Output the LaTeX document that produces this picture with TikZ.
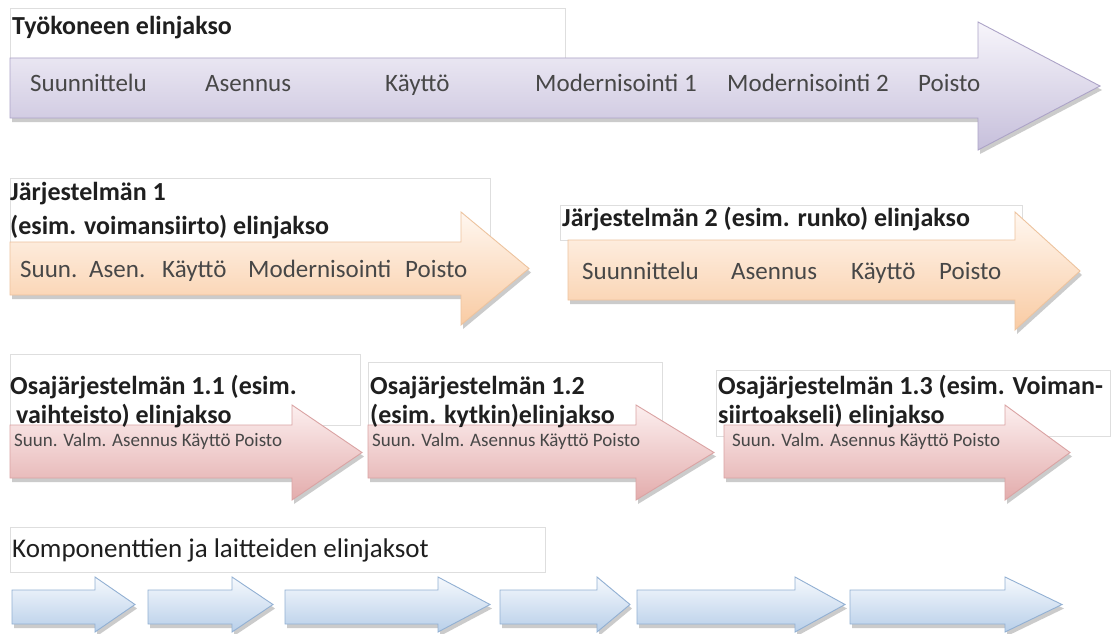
\documentclass[tikz,border=0pt]{standalone}
\usepackage{fontspec}
\setmainfont{Carlito}
\definecolor{lavT}{HTML}{F7F5FB}
\definecolor{lavB}{HTML}{C6BFDB}
\definecolor{lavD}{HTML}{ACA3C7}
\definecolor{orT}{HTML}{FFF7F0}
\definecolor{orB}{HTML}{F9CBA3}
\definecolor{orD}{HTML}{EDC39E}
\definecolor{pkT}{HTML}{FCEFEF}
\definecolor{pkB}{HTML}{E3ACAC}
\definecolor{pkD}{HTML}{DAA3A3}
\definecolor{blT}{HTML}{F6F9FD}
\definecolor{blB}{HTML}{B8CFE9}
\definecolor{blD}{HTML}{92B0D3}
\newcommand{\lcarrow}[8]{%
  \begin{scope}[shift={(2,4)}]
    \path[shad] (#1,#4) -- (#2,#4) -- (#2,#6) -- (#3,{(#6+#7)/2}) -- (#2,#7) -- (#2,#5) -- (#1,#5) -- cycle;
  \end{scope}
  \path[#8] (#1,#4) -- (#2,#4) -- (#2,#6) -- (#3,{(#6+#7)/2}) -- (#2,#7) -- (#2,#5) -- (#1,#5) -- cycle;
}
\begin{document}
\begin{tikzpicture}[x={(1pt,0)}, y={(0,-1pt)},
  ttl/.style={anchor=base west, inner sep=0, font=\fontsize{26}{30}\selectfont\bfseries, text=black!88},
  ttlr/.style={anchor=base west, inner sep=0, font=\fontsize{27}{30}\selectfont, text=black!88},
  lbl/.style={anchor=base west, inner sep=0, font=\fontsize{25}{30}\selectfont, text=black!72},
  sml/.style={anchor=base west, inner sep=0, font=\fontsize{19}{22}\selectfont, text=black!72},
  tbox/.style={draw=black!13, line width=0.9},
  shad/.style={fill=black!40, draw=none, opacity=0.5},
  lav/.style={top color=lavT, bottom color=lavB, draw=lavD, line width=0.9},
  ora/.style={top color=orT, bottom color=orB, draw=orD, line width=0.9},
  pnk/.style={top color=pkT, bottom color=pkB, draw=pkD, line width=0.9},
  blu/.style={top color=blT, bottom color=blB, draw=blD, line width=0.9}]
\useasboundingbox[fill=white] (0,0) rectangle (1116,634);

% ---------- row 1 ----------
\draw[tbox] (10,8) rectangle (565,58);
\lcarrow{10}{978}{1100}{58}{118}{22}{150}{lav}
\node[ttl] (t1) at (12,35) {Työkoneen elinjakso};
\node[lbl] (a1) at (30,91) {Suunnittelu};
\node[lbl] (a2) at (205,91) {Asennus};
\node[lbl] (a3) at (385,91) {Käyttö};
\node[lbl] (a4) at (535,91) {Modernisointi 1};
\node[lbl] (a5) at (727,91) {Modernisointi 2};
\node[lbl] (a6) at (918,91) {Poisto};

% ---------- row 2 ----------
\draw[tbox] (10,178) rectangle (490,242);
\draw[tbox] (560,205) rectangle (1022,240);
\lcarrow{10}{461}{529}{242}{295}{212}{325}{ora}
\lcarrow{568}{1015}{1080}{240}{300}{212}{330}{ora}
\node[ttl] (t2a) at (10,200) {Järjestelmän 1};
\node[ttl] (t2b) at (10,234) {(esim. voimansiirto) elinjakso};
\node[ttl] (t3) at (562,226) {Järjestelmän 2 (esim. runko) elinjakso};
\node[lbl] (b1) at (20,277) {Suun.};
\node[lbl] (b2) at (89,277) {Asen.};
\node[lbl] (b3) at (162,277) {Käyttö};
\node[lbl] (b4) at (248,277) {Modernisointi};
\node[lbl] (b5) at (405,277) {Poisto};
\node[lbl] (c1) at (582,279) {Suunnittelu};
\node[lbl] (c2) at (731,279) {Asennus};
\node[lbl] (c3) at (851,279) {Käyttö};
\node[lbl] (c4) at (939,279) {Poisto};

% ---------- row 3 ----------
\draw[tbox] (10,354) rectangle (360,425);
\draw[tbox] (368,362) rectangle (662,425);
\draw[tbox] (716,370) rectangle (1110,436);
\lcarrow{10}{292}{362}{425}{478}{405}{500}{pnk}
\lcarrow{368}{636}{714}{425}{478}{405}{500}{pnk}
\lcarrow{724}{1005}{1070}{425}{478}{405}{500}{pnk}
\node[ttl] (d1) at (10,394) {Osajärjestelmän 1.1 (esim.};
\node[ttl] (d2) at (16,423) {vaihteisto) elinjakso};
\node[ttl] (e1) at (370,394) {Osajärjestelmän 1.2};
\node[ttl] (e2) at (370,423) {(esim. kytkin)elinjakso};
\node[ttl] (f1) at (718,394) {Osajärjestelmän 1.3 (esim. Voiman-};
\node[ttl] (f2) at (718,423) {siirtoakseli) elinjakso};
\node[sml] (d3) at (14,446) {Suun. Valm. Asennus Käyttö Poisto};
\node[sml] (e3) at (372,446) {Suun. Valm. Asennus Käyttö Poisto};
\node[sml] (f3) at (732,446) {Suun. Valm. Asennus Käyttö Poisto};

% ---------- row 4 ----------
\draw[tbox] (10,527) rectangle (545,572);
\node[ttlr] (g0) at (12,557) {Komponenttien ja laitteiden elinjaksot};
\lcarrow{12}{95}{135}{590}{624}{577}{632}{blu}
\lcarrow{148}{232}{273}{590}{624}{577}{632}{blu}
\lcarrow{285}{438}{490}{590}{624}{577}{632}{blu}
\lcarrow{500}{597}{630}{590}{624}{577}{632}{blu}
\lcarrow{637}{795}{845}{590}{624}{577}{632}{blu}
\lcarrow{850}{1005}{1062}{590}{624}{577}{632}{blu}
\end{tikzpicture}
\end{document}
